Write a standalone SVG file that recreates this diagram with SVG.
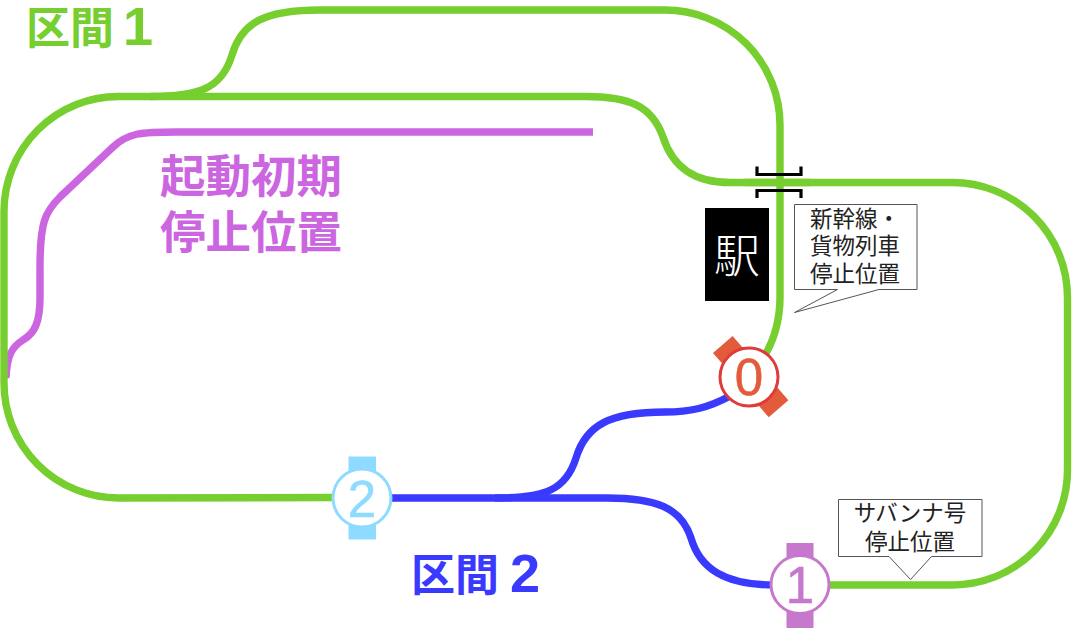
<svg xmlns="http://www.w3.org/2000/svg" width="1073" height="635" viewBox="0 0 1073 635">
<style>
.t{fill:none;stroke-width:7.400}
.g{stroke:#76CE2F}
.b{stroke:#3A3AFF}
.p{stroke:#CC66E0}
.lab{font-family:"Noto Sans CJK JP","Liberation Sans",sans-serif;font-weight:700}
.ln{font-family:"Liberation Sans",sans-serif;font-weight:700;font-size:54px}
.num{font-family:"Liberation Sans",sans-serif;font-size:51px;text-anchor:middle;stroke-width:.6}
.note{fill:#fff;stroke:#555;stroke-width:1}
.nt{font-family:"Noto Sans CJK JP",sans-serif;font-size:22.500px;fill:#222;text-anchor:middle}
.c{fill:#fff;stroke-width:3}
.br{fill:none;stroke:#000;stroke-width:3.200}
</style>
<rect width="1073" height="635" fill="#fff"/>
<g id="connectors">
<path class="t g" d="M150 96.500C200 96.500 222 88 232 55C242 22 265 10 320 10H665A115 115 0 0 1 780 125V297C780 320 775 340 762 360"/>
<path class="t p" d="M593 132H177C140 132 128 133 113 147L60 197C45 212 40 222 40 268V297C40 322 35 333 23 340C12 347 7 355 6 378"/>
<path class="t g" d="M335 497.500L118.500 498A114.500 115 0 0 1 4 383V211A114.500 115 0 0 1 118.500 96.500H585C630 96.500 652 106 663 137C673 168 695 182.500 730 182.500H952.500A115 115 0 0 1 1067.500 297.500V470A115 115 0 0 1 952.500 585H825"/>
<path class="t b" d="M390 498H607C655 498 681 507 691 538C700 569 725 585 775 585"/>
<path class="t b" d="M495 498C545 498 566 490 576 458C586 425 610 412 665 412C690 412 708 408 730 396"/>
<path class="br" d="M757 166.500V174.500H801V166.500"/>
<path class="br" d="M757 198V190.500H801V198"/>
<path class="t g" d="M745 182.500H810"/>
</g>
<g id="label-section1"><text class="lab" x="26" y="44" font-size="44" fill="#76CE2F">区間</text><text class="ln" x="123" y="45" fill="#76CE2F">1</text></g>
<g id="label-section2"><text class="lab" x="411" y="591" font-size="44" fill="#3A3AFF">区間</text><text class="ln" x="510" y="592" fill="#3A3AFF">2</text></g>
<g id="label-initial" class="lab" font-size="45.500" fill="#CC66E0"><text x="160" y="193">起動初期</text><text x="160" y="249">停止位置</text></g>
<g id="station"><rect x="705" y="208" width="64" height="93" fill="#000"/><text x="737" y="272" font-family="Noto Sans CJK JP,sans-serif" font-size="46" font-weight="300" fill="#fff" text-anchor="middle">駅</text></g>
<g id="note-shinkansen"><path class="note" d="M794.500 204.500H917V289.500H879L794.500 312.500L837.500 289.500H794.500Z"/><text class="nt"><tspan x="855" y="227">新幹線・</tspan><tspan x="855" y="254">貨物列車</tspan><tspan x="855" y="282">停止位置</tspan></text></g>
<g id="note-savannah"><path class="note" d="M838.500 499.500H982V556.500H931.500L910.500 579.500L889 556.500H838.500Z"/><text class="nt"><tspan x="910" y="521">サバンナ号</tspan><tspan x="910" y="550">停止位置</tspan></text></g>
<g id="stop-0"><rect x="708" y="364" width="85" height="26" fill="#E25C3C" transform="rotate(49 751 377)"/><circle class="c" cx="749" cy="377" r="29" stroke="#E03A3A"/><text class="num" x="749" y="395" fill="#E25C3C" stroke="#E25C3C">0</text></g>
<g id="stop-1"><rect x="786.500" y="543" width="27" height="85" fill="#C678CC"/><circle class="c" cx="800" cy="584.500" r="29" stroke="#C678CC"/><text class="num" x="800" y="603" fill="#C678CC" stroke="#C678CC">1</text></g>
<g id="stop-2"><rect x="348.500" y="456.500" width="27.500" height="83" fill="#8FDBFF"/><circle class="c" cx="362" cy="498" r="29" stroke="#8FDBFF"/><text class="num" x="362" y="517" fill="#8FDBFF" stroke="#8FDBFF">2</text></g>
</svg>
